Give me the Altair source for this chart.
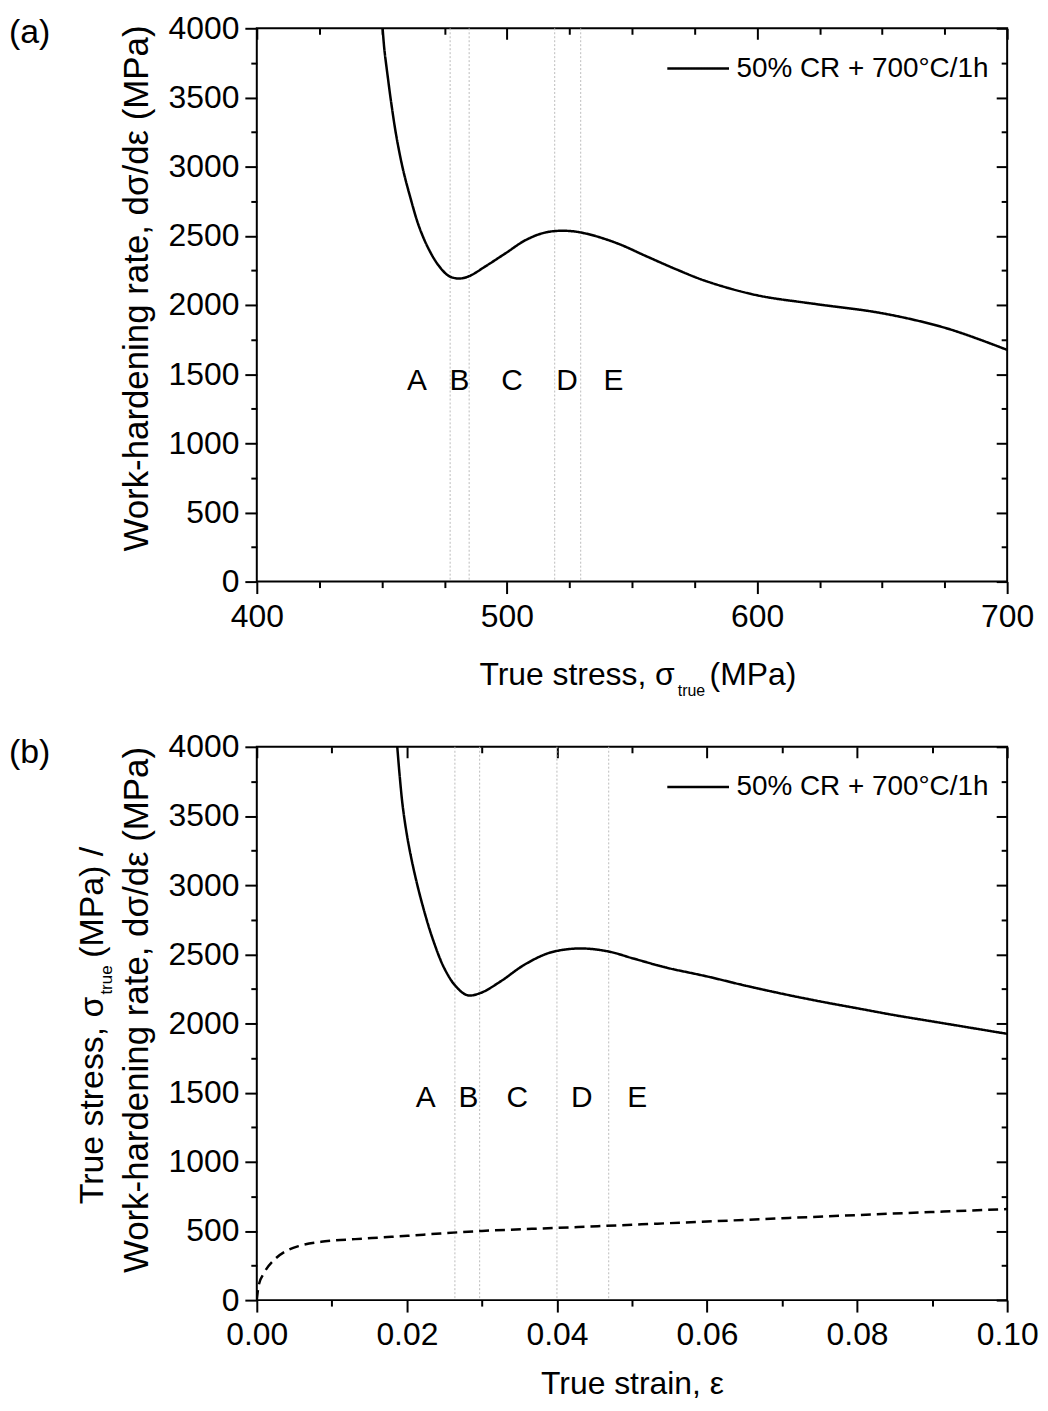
import altair as alt
import pandas as pd

FONT = "Liberation Sans"
W, H = 754, 556

series_label = "50% CR + 700°C/1h"

# ---- panel (a): work-hardening rate vs true stress ----
stress_a = [450.3, 451.0, 452.3, 453.7, 455.7, 458.3, 461.0, 464.9, 468.9, 472.9,
            476.9, 480.9, 484.9, 491.5, 499.5, 507.5, 515.4, 523.4, 531.4, 544.0,
            556.0, 568.0, 580.0, 600.0, 624.0, 650.0, 676.0, 700.0]
whr_a = [4000, 3848, 3658, 3467, 3230, 2992, 2802, 2565, 2398, 2280,
         2208, 2191, 2208, 2280, 2374, 2469, 2524, 2536, 2517, 2446,
         2350, 2255, 2170, 2070, 2005, 1940, 1830, 1675]
bounds_a = [477.3, 484.9, 519.1, 529.5]
zone_labels = ["A", "B", "C", "D", "E"]
zone_x_a = [464, 481, 502, 524, 542.6]
zone_y_a = [1450] * 5

# ---- panel (b): work-hardening rate and true stress vs true strain ----
strain_b = [0.01872, 0.01903, 0.01947, 0.02013, 0.02102, 0.02212, 0.02344, 0.02499,
            0.02653, 0.02808, 0.02985, 0.03249, 0.03559, 0.03868, 0.04132, 0.04397,
            0.04706, 0.05016, 0.05457, 0.060, 0.065, 0.070, 0.075, 0.080, 0.085,
            0.090, 0.095, 0.100]
whr_b = [4000, 3798, 3561, 3324, 3087, 2849, 2612, 2399,
         2268, 2204, 2221, 2304, 2422, 2505, 2536, 2541,
         2518, 2470, 2404, 2340, 2275, 2215, 2160, 2110, 2060,
         2015, 1970, 1925]
strain_s = [0.0, 0.00026, 0.00093, 0.00247, 0.0040, 0.00578, 0.0091, 0.0131, 0.0166,
            0.0201, 0.0245, 0.030, 0.040, 0.050, 0.060, 0.070, 0.080, 0.090, 0.100]
stress_s = [0, 109, 192, 299, 358, 394, 425, 441, 453,
            465, 482, 500, 522, 545, 568, 592, 615, 637, 658]
bounds_b = [0.0264, 0.0297, 0.0400, 0.0469]
zone_x_b = [0.0225, 0.0282, 0.0347, 0.0433, 0.0507]
zone_y_b = [1460] * 5

y_ticks = list(range(0, 4001, 250))
x_ticks_a = list(range(400, 701, 25))
x_ticks_b = [round(i * 0.01, 2) for i in range(11)]

Y_MAJOR = "datum.value % 500 === 0"
XA_MAJOR = "datum.value % 100 === 0"
XB_MAJOR = "round(datum.value * 100) % 2 === 0"


def cond(test, major, minor):
    return {"condition": {"test": test, "value": major}, "value": minor}


def main_axis(orient, values, major, fmt, **kw):
    return alt.Axis(orient=orient, values=values, format=fmt,
                    labelExpr=f"({major}) ? datum.label : ''",
                    tickSize=cond(major, 12, 6), tickWidth=2, tickColor="black",
                    labelFont=FONT, labelFontSize=32, labelColor="black",
                    labelOverlap=False, labelFlush=False, labelBound=False,
                    domain=False, grid=False, **kw)


def mirror_axis(orient, values, major):
    return alt.Axis(orient=orient, values=values, labels=False, title=None,
                    tickSize=cond(major, -11, -6), tickWidth=2, tickColor="black",
                    domain=False, grid=False, minExtent=0)


def title_kw(x, y, size):
    return dict(titleFont=FONT, titleFontSize=size, titleColor="black",
                titleFontWeight="normal", titleX=x, titleY=y)


def text_mark(df, text, x, y, size, align="left", baseline="alphabetic", angle=0):
    return alt.Chart(df).mark_text(text=text, font=FONT, fontSize=size, color="black",
                                   align=align, baseline=baseline, angle=angle).encode(
        x=alt.value(x), y=alt.value(y))


def legend():
    return alt.Legend(title=None, orient="none", legendX=411, legendY=8,
                      symbolType="stroke", symbolSize=3844,
                      symbolStrokeWidth=2.5, symbolStrokeColor="black",
                      labelFont=FONT, labelFontSize=28, labelColor="black",
                      labelOffset=6, labelLimit=500, padding=0)


one = pd.DataFrame({"k": [0]})

# ================= panel (a) =================
df_a = pd.DataFrame({"stress": stress_a, "whr": whr_a, "series": series_label})
df_ba = pd.DataFrame({"b": bounds_a})
df_za = pd.DataFrame({"lab": zone_labels, "x": zone_x_a, "y": zone_y_a})

xs_a = alt.Scale(domain=[400, 700], nice=False, zero=False)
ys = alt.Scale(domain=[0, 4000], nice=False)

xa_axis = main_axis("bottom", x_ticks_a, XA_MAJOR, "d", title=None, labelPadding=8)
ya_axis = main_axis("left", y_ticks, Y_MAJOR, "d", labelPadding=6,
                    title="Work-hardening rate, dσ/dε (MPa)",
                    titleAngle=270, titleAlign="center", titleBaseline="alphabetic",
                    **title_kw(-110, 261, 35))

rules_a = alt.Chart(df_ba).mark_rule(color="#bbbbbb", strokeDash=[2, 2], strokeWidth=1).encode(
    x=alt.X("b:Q", scale=xs_a, axis=xa_axis))
line_a = alt.Chart(df_a).mark_line(color="black", strokeWidth=2.5, interpolate="catmull-rom",
                                   clip=True).encode(
    x=alt.X("stress:Q", scale=xs_a, axis=xa_axis),
    y=alt.Y("whr:Q", scale=ys, axis=ya_axis),
    strokeDash=alt.StrokeDash("series:N",
                              scale=alt.Scale(domain=[series_label], range=[[1, 0]]),
                              legend=legend()),
)
zones_a = alt.Chart(df_za).mark_text(font=FONT, fontSize=30, color="black",
                                      baseline="middle", align="center").encode(
    x=alt.X("x:Q", scale=xs_a, axis=xa_axis),
    y=alt.Y("y:Q", scale=ys, axis=ya_axis),
    text="lab:N")
xt1 = text_mark(one, "True stress, σ", 420, H + 104, 32, align="right")
xt2 = text_mark(one, "true", 423, H + 115, 16)
xt3 = text_mark(one, "(MPa)", 455, H + 104, 32)
tag_a = text_mark(one, "(a)", -249, 15, 34)

mirror_a = alt.Chart(df_a).mark_line(opacity=0).encode(
    x=alt.X("stress:Q", scale=xs_a, axis=mirror_axis("top", x_ticks_a, XA_MAJOR)),
    y=alt.Y("whr:Q", scale=ys, axis=mirror_axis("right", y_ticks, Y_MAJOR)))

panel_a = alt.layer(
    alt.layer(rules_a, line_a, zones_a, xt1, xt2, xt3, tag_a),
    mirror_a,
).resolve_scale(x="independent", y="independent").properties(width=W, height=H)

# ================= panel (b) =================
df_b = pd.DataFrame({"strain": strain_b, "whr": whr_b, "series": series_label})
df_s = pd.DataFrame({"strain": strain_s, "stress": stress_s})
df_bb = pd.DataFrame({"b": bounds_b})
df_zb = pd.DataFrame({"lab": zone_labels, "x": zone_x_b, "y": zone_y_b})

xs_b = alt.Scale(domain=[0, 0.1], nice=False)

xb_axis = main_axis("bottom", x_ticks_b, XB_MAJOR, ".2f", title="True strain, ε",
                    labelPadding=8, titleBaseline="alphabetic", **title_kw(W / 2, 94, 32))
yb_axis = main_axis("left", y_ticks, Y_MAJOR, "d", labelPadding=6,
                    title="Work-hardening rate, dσ/dε (MPa)",
                    titleAngle=270, titleAlign="center", titleBaseline="alphabetic",
                    **title_kw(-110, 264, 35))

rules_b = alt.Chart(df_bb).mark_rule(color="#bbbbbb", strokeDash=[2, 2], strokeWidth=1).encode(
    x=alt.X("b:Q", scale=xs_b, axis=xb_axis))
line_b = alt.Chart(df_b).mark_line(color="black", strokeWidth=2.5, interpolate="catmull-rom",
                                   clip=True).encode(
    x=alt.X("strain:Q", scale=xs_b, axis=xb_axis),
    y=alt.Y("whr:Q", scale=ys, axis=yb_axis),
    strokeDash=alt.StrokeDash("series:N",
                              scale=alt.Scale(domain=[series_label], range=[[1, 0]]),
                              legend=legend()),
)
stress_line = alt.Chart(df_s).mark_line(color="black", strokeWidth=2.5, strokeDash=[10, 6],
                                        interpolate="monotone", clip=True).encode(
    x=alt.X("strain:Q", scale=xs_b, axis=xb_axis),
    y=alt.Y("stress:Q", scale=ys, axis=yb_axis))
zones_b = alt.Chart(df_zb).mark_text(font=FONT, fontSize=30, color="black",
                                      baseline="middle", align="center").encode(
    x=alt.X("x:Q", scale=xs_b, axis=xb_axis),
    y=alt.Y("y:Q", scale=ys, axis=yb_axis),
    text="lab:N")
yt1 = text_mark(one, "True stress, σ", -155, 251, 34, align="right", angle=270)
yt2 = text_mark(one, "true", -145, 249, 17, align="left", angle=270)
yt3 = text_mark(one, "(MPa) /", -155, 212, 34, align="left", angle=270)
tag_b = text_mark(one, "(b)", -249, 16, 34)

mirror_b = alt.Chart(df_b).mark_line(opacity=0).encode(
    x=alt.X("strain:Q", scale=xs_b, axis=mirror_axis("top", x_ticks_b, XB_MAJOR)),
    y=alt.Y("whr:Q", scale=ys, axis=mirror_axis("right", y_ticks, Y_MAJOR)))

panel_b = alt.layer(
    alt.layer(rules_b, line_b, stress_line, zones_b, yt1, yt2, yt3, tag_b),
    mirror_b,
).resolve_scale(x="independent", y="independent").properties(width=W, height=H)

chart = alt.vconcat(panel_a, panel_b, spacing=30).resolve_scale(
    strokeDash="independent").resolve_legend(strokeDash="independent").configure_view(
    stroke="black", strokeWidth=2).properties(
    padding={"left": 0, "top": 0, "right": 0, "bottom": 0}, background="white")

chart.save("out.html", embed_options={"renderer": "svg", "actions": False})
